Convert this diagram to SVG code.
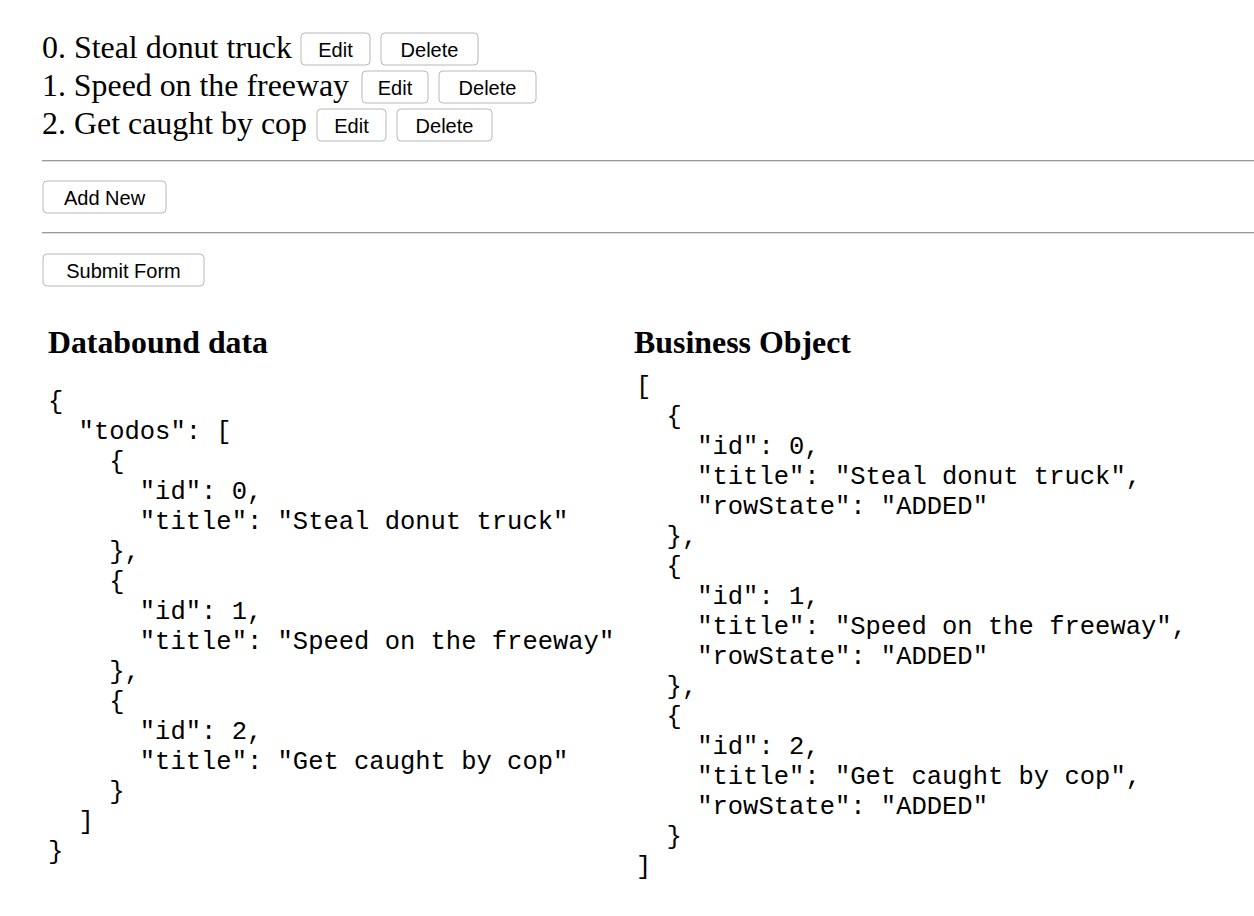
<svg xmlns="http://www.w3.org/2000/svg" width="1254" height="916" viewBox="0 0 1254 916">
<style>
.item{font-family:"Liberation Serif","Times New Roman",serif;font-size:31.5px;fill:#000}
.btn rect{fill:#fff;stroke:#b8b8b8;stroke-width:1}
.btn text{font-family:"Liberation Sans",Arial,sans-serif;font-size:20px;fill:#000;text-anchor:middle}
.h{font-family:"Liberation Serif","Times New Roman",serif;font-size:31.5px;font-weight:bold}
.m{font-family:"Liberation Mono","Courier New",monospace;font-size:25.5px;white-space:pre}
</style>
<rect width="1254" height="916" fill="#fff"/>
<g id="list">
<text class="item" x="42" y="58" textLength="250" lengthAdjust="spacingAndGlyphs">0. Steal donut truck</text>
<g class="btn"><rect x="301" y="33" width="69" height="32" rx="4"/><text x="335.5" y="57">Edit</text></g>
<g class="btn"><rect x="381" y="33" width="97" height="32" rx="4"/><text x="429.5" y="57">Delete</text></g>
<text class="item" x="42" y="96" textLength="307" lengthAdjust="spacingAndGlyphs">1. Speed on the freeway</text>
<g class="btn"><rect x="362" y="71" width="66" height="32" rx="4"/><text x="395" y="95">Edit</text></g>
<g class="btn"><rect x="439" y="71" width="97" height="32" rx="4"/><text x="487.5" y="95">Delete</text></g>
<text class="item" x="42" y="134" textLength="265" lengthAdjust="spacingAndGlyphs">2. Get caught by cop</text>
<g class="btn"><rect x="317" y="109" width="69" height="32" rx="4"/><text x="351.5" y="133">Edit</text></g>
<g class="btn"><rect x="397" y="109" width="95" height="32" rx="4"/><text x="444.5" y="133">Delete</text></g>
</g>
<g id="rules" stroke-width="1">
<line x1="42" y1="160.5" x2="1254" y2="160.5" stroke="#9a9a9a"/>
<line x1="42" y1="161.5" x2="1254" y2="161.5" stroke="#e0e0e0"/>
<line x1="42" y1="232.5" x2="1254" y2="232.5" stroke="#9a9a9a"/>
<line x1="42" y1="233.5" x2="1254" y2="233.5" stroke="#e0e0e0"/>
</g>
<g id="addnew" class="btn"><rect x="43" y="181" width="123" height="32" rx="4"/><text x="104.5" y="205">Add New</text></g>
<g id="submit" class="btn"><rect x="43" y="254" width="161" height="32" rx="4"/><text x="123.5" y="278">Submit Form</text></g>
<g id="databound">
<text class="h" x="48" y="353" textLength="220" lengthAdjust="spacingAndGlyphs">Databound data</text>
<text class="m" xml:space="preserve" x="48" y="409">{</text>
<text class="m" xml:space="preserve" x="48" y="439">  "todos": [</text>
<text class="m" xml:space="preserve" x="48" y="469">    {</text>
<text class="m" xml:space="preserve" x="48" y="499">      "id": 0,</text>
<text class="m" xml:space="preserve" x="48" y="529">      "title": "Steal donut truck"</text>
<text class="m" xml:space="preserve" x="48" y="559">    },</text>
<text class="m" xml:space="preserve" x="48" y="589">    {</text>
<text class="m" xml:space="preserve" x="48" y="619">      "id": 1,</text>
<text class="m" xml:space="preserve" x="48" y="649">      "title": "Speed on the freeway"</text>
<text class="m" xml:space="preserve" x="48" y="679">    },</text>
<text class="m" xml:space="preserve" x="48" y="709">    {</text>
<text class="m" xml:space="preserve" x="48" y="739">      "id": 2,</text>
<text class="m" xml:space="preserve" x="48" y="769">      "title": "Get caught by cop"</text>
<text class="m" xml:space="preserve" x="48" y="799">    }</text>
<text class="m" xml:space="preserve" x="48" y="829">  ]</text>
<text class="m" xml:space="preserve" x="48" y="859">}</text>
</g>
<g id="business">
<text class="h" x="634" y="353" textLength="217" lengthAdjust="spacingAndGlyphs">Business Object</text>
<text class="m" xml:space="preserve" x="636" y="394">[</text>
<text class="m" xml:space="preserve" x="636" y="424">  {</text>
<text class="m" xml:space="preserve" x="636" y="454">    "id": 0,</text>
<text class="m" xml:space="preserve" x="636" y="484">    "title": "Steal donut truck",</text>
<text class="m" xml:space="preserve" x="636" y="514">    "rowState": "ADDED"</text>
<text class="m" xml:space="preserve" x="636" y="544">  },</text>
<text class="m" xml:space="preserve" x="636" y="574">  {</text>
<text class="m" xml:space="preserve" x="636" y="604">    "id": 1,</text>
<text class="m" xml:space="preserve" x="636" y="634">    "title": "Speed on the freeway",</text>
<text class="m" xml:space="preserve" x="636" y="664">    "rowState": "ADDED"</text>
<text class="m" xml:space="preserve" x="636" y="694">  },</text>
<text class="m" xml:space="preserve" x="636" y="724">  {</text>
<text class="m" xml:space="preserve" x="636" y="754">    "id": 2,</text>
<text class="m" xml:space="preserve" x="636" y="784">    "title": "Get caught by cop",</text>
<text class="m" xml:space="preserve" x="636" y="814">    "rowState": "ADDED"</text>
<text class="m" xml:space="preserve" x="636" y="844">  }</text>
<text class="m" xml:space="preserve" x="636" y="874">]</text>
</g>
</svg>
